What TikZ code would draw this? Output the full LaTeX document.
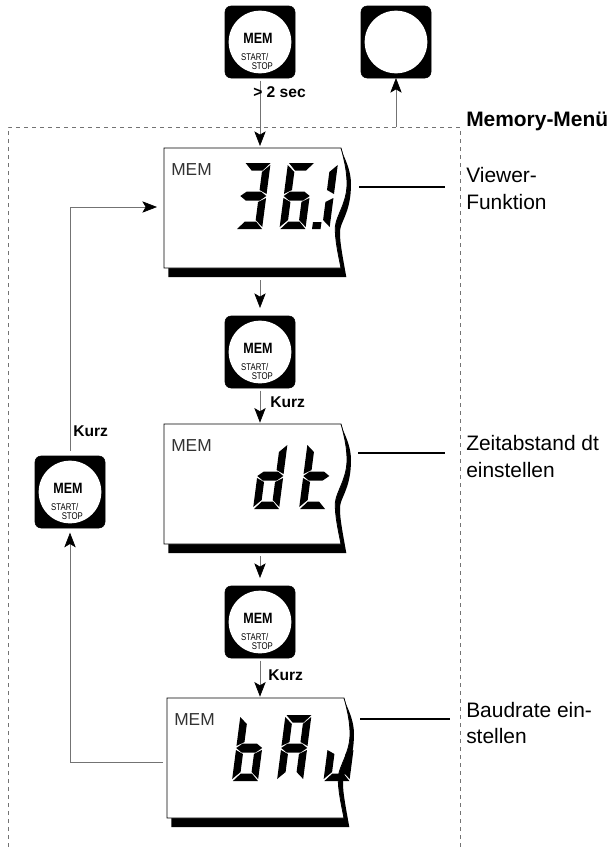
\documentclass[tikz,border=0pt]{standalone}
\usepackage{fontspec}
\setmainfont{Liberation Sans}
\usepackage{xcolor}
\usepackage{tikz}
\usetikzlibrary{arrows.meta,positioning,calc}

\definecolor{wiregray}{gray}{0.45}

\tikzset{
	btn/.style={draw=black, fill=black, rounded corners=4.5pt, minimum width=52.5pt, minimum height=54pt, inner sep=0pt, outer sep=0pt},
	btnface/.style={circle, fill=white, minimum size=47pt, inner sep=0pt},
	btnmem/.style={font=\bfseries\fontsize{11.2}{12}\selectfont, inner sep=0pt, xscale=0.84, transform shape},
	btnsmall/.style={font=\fontsize{7.3}{8}\selectfont, inner sep=0pt, xscale=0.8, transform shape},
	lcd/.style={minimum width=132.75pt, minimum height=90pt, inner sep=0pt, outer sep=0pt},
	lcdmem/.style={font=\fontsize{13}{14}\selectfont, text=black!80, anchor=west, inner sep=0pt},
	conn/.style={wiregray, line width=0.5pt, -{Stealth[length=11pt,width=8.5pt,inset=2.5pt,black]}},
	tag/.style={black, line width=1pt},
	note/.style={font=\fontsize{15.7}{20}\selectfont, align=left, anchor=west, inner sep=0pt},
	time/.style={font=\bfseries\fontsize{11.7}{13}\selectfont, anchor=west, inner sep=0pt},
}

% segments of one digit, top left at the origin
\newcommand{\sega}{(1,0) -- (26,0) -- (19,7.5) -- (8,7.5) -- cycle}
\newcommand{\segb}{(26,2) -- (18.5,9) -- (18.5,27) -- (26,31) -- cycle}
\newcommand{\segc}{(26,35) -- (18.5,39) -- (18.5,57) -- (26,64) -- cycle}
\newcommand{\segd}{(1,66) -- (26,66) -- (19,58.5) -- (8,58.5) -- cycle}
\newcommand{\sege}{(0,35) -- (7.5,39) -- (7.5,57) -- (0,64) -- cycle}
\newcommand{\segf}{(0,2) -- (7.5,9) -- (7.5,27) -- (0,31) -- cycle}
\newcommand{\segg}{(0,33) -- (6,28.5) -- (20,28.5) -- (26,33) -- (20,37.5) -- (6,37.5) -- cycle}

\newcommand{\lcddigit}[2]{
	\begin{scope}[shift={(#1)}, xslant=0.13]
		\foreach \s in {#2} {
			\fill \csname seg\s\endcsname;
		}
	\end{scope}
}

\newcommand{\membtn}[2]{
	\node[btn] (#1) at (#2) {};
	\node[btnface] (#1face) at (#1) {};
}
\newcommand{\memtext}[1]{
	\node[btnmem] (#1mem) at ($(#1)+(-2,-4)$) {MEM};
	\node[btnsmall] (#1start) at ($(#1)+(-5.3,14.7)$) {START/};
	\node[btnsmall] (#1stop) at ($(#1)+(2.3,24)$) {STOP};
}
\newcommand{\lcdframe}[2]{
	\node[lcd] (#1) at (#2) {};
	\begin{scope}[shift={(#1.north west)}]
		\fill[black] (4.3,118) -- (4.3,129) -- (182.3,129) .. controls (178,105) and (175,90) .. (176.3,80.7)
			.. controls (178,72) and (187,62) .. (187,36) .. controls (187,25) and (183,15) .. (179,6) -- (177,0) -- cycle;
		\draw[fill=white, line width=0.6pt] (0,0) -- (177,0) .. controls (181,14) and (183,25) .. (183,36)
			.. controls (183,55) and (172,68) .. (171.3,79) .. controls (171,92) and (174,105) .. (177,120) -- (0,120) -- cycle;
		\node[lcdmem] (#1mem) at (7,22) {MEM};
	\end{scope}
}

\begin{document}
\begin{tikzpicture}[x=0.75pt, y=-0.75pt]
	\useasboundingbox (0,0) rectangle (612,847);

	% dashed menu frame, open at the bottom
	\coordinate (frameA) at (8,847);
	\coordinate (frameB) at (8,127);
	\coordinate (frameC) at (460,127);
	\coordinate (frameD) at (460,847);
	\draw[dashed, wiregray, line width=0.5pt] (frameA) -- (frameB) -- (frameC) -- (frameD);

	\membtn{btnTop}{260,42}
	\memtext{btnTop}
	\membtn{btnExit}{396,42}
	\membtn{btnDt}{260,352}
	\memtext{btnDt}
	\membtn{btnBaud}{260,622}
	\memtext{btnBaud}
	\membtn{btnBack}{70,492}
	\memtext{btnBack}

	\lcdframe{lcdView}{252.5,208}
	\lcddigit{244.6,163}{a,b,c,d,g}
	\lcddigit{288,163}{a,c,d,e,f,g}
	\lcddigit{312,163}{b,c}
	\fill (313,222) -- (321.5,222) -- (320.5,229) -- (312,229) -- cycle;

	\lcdframe{lcdDt}{252.5,484}
	\lcddigit{261.6,443}{b,c,d,e,g}
	\lcddigit{307.6,443}{d,e,f,g}

	\lcdframe{lcdBaud}{255.5,758}
	\lcddigit{240.5,715}{c,d,e,f,g}
	\lcddigit{285.5,715}{a,b,c,e,f,g}
	\lcddigit{332,715}{c,d,e}

	% vertical chain
	\draw[conn, shorten <=2pt, shorten >=1.5pt] (btnTop.south) -- (btnTop.south |- lcdView.north);
	\draw[conn, shorten <=9pt, shorten >=6pt] (btnDt.north |- lcdView.south) -- (btnDt.north);
	\draw[conn, shorten <=2pt, shorten >=1pt] (btnDt.south) -- (btnDt.south |- lcdDt.north);
	\draw[conn, shorten <=9pt, shorten >=6pt] (btnBaud.north |- lcdDt.south) -- (btnBaud.north);
	\draw[conn, shorten <=2pt, shorten >=1pt] (btnBaud.south) -- (btnBaud.south |- lcdBaud.north);
	\draw[conn] (btnExit.south |- frameC) -- (btnExit.south);

	% return path on the left
	\coordinate (lcdBaudOut) at (163,762);
	\coordinate (lcdViewIn) at (157,207);
	\draw[conn, shorten >=3.5pt] (lcdBaudOut) -| (btnBack.south);
	\draw[conn, shorten <=4pt] (btnBack.north) |- (lcdViewIn);

	\node[time] (lblSec) at (253,92) {> 2 sec};
	\node[time] (lblDt) at (270,402) {Kurz};
	\node[time] (lblBaud) at (268,675) {Kurz};
	\node[time] (lblBack) at (73,431) {Kurz};

	\node[note] (noteMenu) at (466,121.5) {\bfseries Memory-Menü};
	\node[note] (noteView) at (466,188.5) {Viewer-\\Funktion};
	\node[note] (noteDt) at (466,456.5) {Zeitabstand dt\\einstellen};
	\node[note] (noteBaud) at (466,723) {Baudrate ein-\\stellen};

	\coordinate (tagViewA) at (359,187);
	\coordinate (tagViewB) at (445,187);
	\coordinate (tagDtA) at (358,453);
	\coordinate (tagDtB) at (445,453);
	\coordinate (tagBaudA) at (360,719);
	\coordinate (tagBaudB) at (450,719);
	\draw[tag] (tagViewA) -- (tagViewB);
	\draw[tag] (tagDtA) -- (tagDtB);
	\draw[tag] (tagBaudA) -- (tagBaudB);
\end{tikzpicture}
\end{document}
